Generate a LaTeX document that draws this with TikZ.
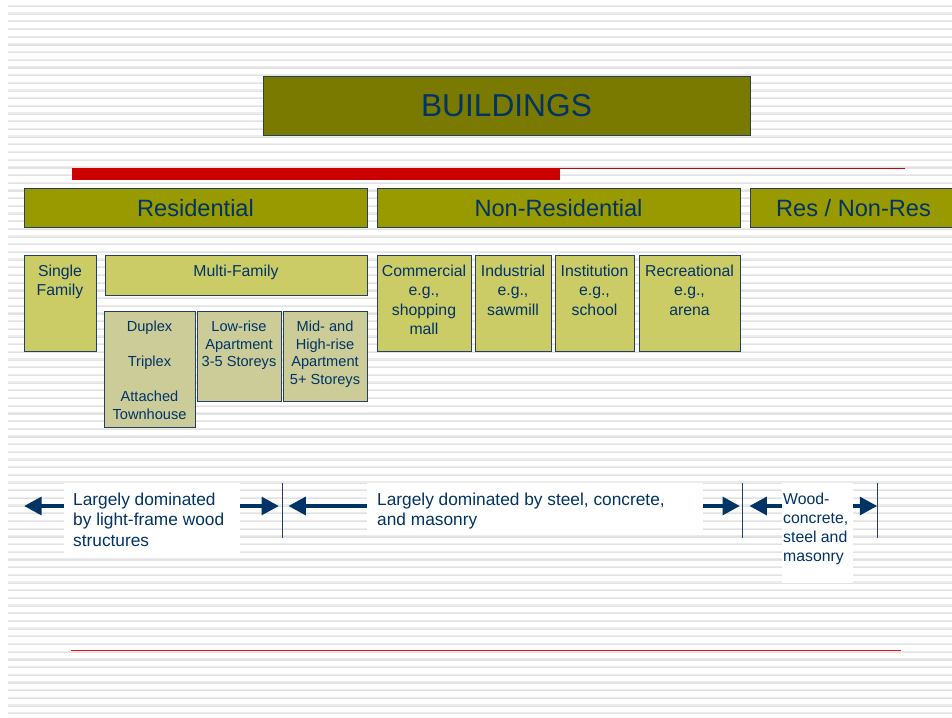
\documentclass[tikz,border=0pt]{standalone}
\usepackage{fontspec}
\setmainfont{Liberation Sans}
\usetikzlibrary{arrows.meta}

\definecolor{navy}{RGB}{0,51,102}
\definecolor{edge}{RGB}{35,64,100}
\definecolor{oliveA}{RGB}{122,122,0}
\definecolor{oliveB}{RGB}{153,153,0}
\definecolor{oliveC}{RGB}{204,204,102}
\definecolor{oliveD}{RGB}{204,204,153}
\definecolor{stripeA}{RGB}{236,236,236}
\definecolor{stripeB}{RGB}{226,226,226}
\definecolor{barred}{RGB}{204,0,0}
\definecolor{linered}{RGB}{230,20,20}

\tikzset{
  box/.style={draw=edge, line width=1pt, inner sep=0pt, outer sep=0pt, anchor=north west},
  head/.style={box, fill=oliveB, text=navy, text depth=0pt,
    font=\fontsize{23.6}{28}\selectfont},
  cat/.style={box, fill=oliveC},
  sub/.style={box, fill=oliveD},
  intext/.style={inner sep=0pt, anchor=north, align=center, text=navy,
    font=\fontsize{15.8}{19.3}\selectfont},
  subtext/.style={intext, font=\fontsize{14.6}{17.5}\selectfont},
  note/.style={fill=white, inner sep=0pt, outer sep=0pt, anchor=north west},
  notetext/.style={inner sep=0pt, anchor=north west, align=left, text=navy},
  arr/.style={draw=navy, line width=4.3pt, -{Triangle[length=17.5pt,width=17.5pt]}},
  divider/.style={draw=edge, line width=1pt},
}

\begin{document}
\begin{tikzpicture}[x=1pt, y=-1pt]
  \useasboundingbox (0,0) rectangle (952,717);
  \clip (0,0) rectangle (952,717);

  % striped background: each stripe is a light band over a slightly darker one
  \foreach \n in {0,...,92}{
    \fill[stripeA] (8,{6+7.687*\n-1.2}) rectangle (952,{6+7.687*\n});
    \fill[stripeB] (8,{6+7.687*\n}) rectangle (952,{6+7.687*\n+1.1});
  }

  % title
  \node[box, fill=oliveA, text=navy, minimum width=487, minimum height=59,
        font=\fontsize{31.7}{38}\selectfont] (buildings) at (263,76) {BUILDINGS};

  % red rules
  \fill[barred] (72,168) rectangle (560,180);
  \draw[barred, line width=1pt] (560,168.5) -- (905,168.5);
  \draw[linered, line width=1.2pt] (71,650.3) -- (901,650.3);

  % main categories
  \node[head, minimum width=343, minimum height=39] (res) at (24,188) {Residential};
  \node[head, minimum width=363, minimum height=39] (nonres) at (377,188) {Non-Residential};
  \node[head, minimum width=207, minimum height=39] (mixed) at (750,188) {Res / Non-Res};

  % residential sub-categories
  \node[cat, minimum width=72, minimum height=96] (single) at (24,255) {};
  \node[intext] at ([yshift=-10pt]single.north) {Single\\Family};
  \node[cat, minimum width=262, minimum height=40] (multi) at (105,255) {};
  \node[intext] at ([yshift=-10pt]multi.north) {Multi-Family};

  \node[sub, minimum width=91, minimum height=116] (duplex) at (104,311) {};
  \node[subtext] at ([yshift=-10pt]duplex.north) {Duplex\\[17.5pt]Triplex\\[17.5pt]Attached\\Townhouse};
  \node[sub, minimum width=84, minimum height=90] (lowrise) at (197,311) {};
  \node[subtext] at ([yshift=-10pt]lowrise.north) {Low-rise\\Apartment\\3-5 Storeys};
  \node[sub, minimum width=84, minimum height=90] (highrise) at (283,311) {};
  \node[subtext] at ([yshift=-10pt]highrise.north) {Mid- and\\High-rise\\Apartment\\5+ Storeys};

  % non-residential sub-categories
  \node[cat, minimum width=94, minimum height=96] (commercial) at (377,255) {};
  \node[intext] at ([yshift=-10pt]commercial.north) {Commercial\\e.g.,\\shopping\\mall};
  \node[cat, minimum width=76, minimum height=96] (industrial) at (475,255) {};
  \node[intext] at ([yshift=-10pt]industrial.north) {Industrial\\e.g.,\\sawmill};
  \node[cat, minimum width=79, minimum height=96] (institution) at (555,255) {};
  \node[intext] at ([yshift=-10pt]institution.north) {Institution\\e.g.,\\school};
  \node[cat, minimum width=101, minimum height=96] (recreational) at (639,255) {};
  \node[intext] at ([yshift=-10pt]recreational.north) {Recreational\\e.g.,\\arena};

  % structural notes
  \node[note, minimum width=176, minimum height=70] (w1) at (64,483) {};
  \node[notetext, font=\fontsize{17.3}{20.7}\selectfont] at (73,492.5)
    {Largely dominated\\by light-frame wood\\structures};
  \node[note, minimum width=336, minimum height=52] (w2) at (367,483) {};
  \node[notetext, font=\fontsize{17.3}{20.7}\selectfont] at (377,492.5)
    {Largely dominated by steel, concrete,\\and masonry};
  \node[note, minimum width=71, minimum height=100] (w3) at (782,483) {};
  \node[notetext, font=\fontsize{15.8}{19.2}\selectfont] at (783,492.5)
    {Wood-\\concrete,\\steel and\\masonry};

  % range dividers
  \coordinate (d1t) at (282.7,483); \coordinate (d1b) at (282.7,538);
  \coordinate (d2t) at (742,483);   \coordinate (d2b) at (742,538);
  \coordinate (d3t) at (877.3,483); \coordinate (d3b) at (877.3,538);
  \draw[divider] (d1t) -- (d1b);
  \draw[divider] (d2t) -- (d2b);
  \draw[divider] (d3t) -- (d3b);

  % range arrows
  \coordinate (t1) at (24,506);
  \coordinate (t2) at (279,506);
  \coordinate (t3) at (288.3,506);
  \coordinate (t4) at (740,506);
  \coordinate (t5) at (749.3,506);
  \coordinate (t6) at (877.3,506);
  \draw[arr] (w1.west |- t1) -- (t1);
  \draw[arr] (w1.east |- t2) -- (t2);
  \draw[arr] (w2.west |- t3) -- (t3);
  \draw[arr] (w2.east |- t4) -- (t4);
  \draw[arr] (w3.west |- t5) -- (t5);
  \draw[arr] (w3.east |- t6) -- (t6);
\end{tikzpicture}
\end{document}
